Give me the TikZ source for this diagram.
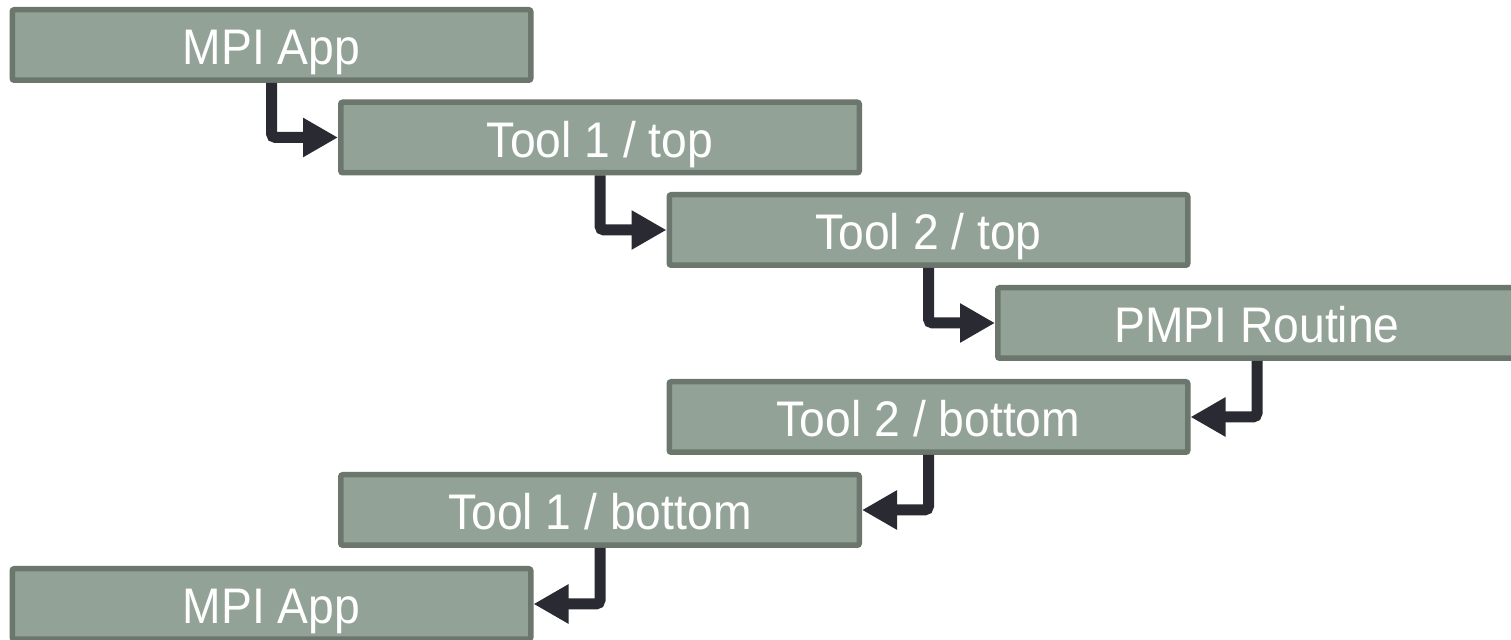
\documentclass[tikz,border=0pt]{standalone}
\usepackage{fontspec}
\setmainfont{Liberation Sans}
\newfontfamily\labelfont[FakeStretch=0.925]{Liberation Sans}
\usetikzlibrary{arrows.meta}
\definecolor{boxfill}{HTML}{93A297}
\definecolor{boxedge}{HTML}{6B776D}
\definecolor{flow}{HTML}{2A2A33}
\tikzset{
  layer/.style={draw=boxedge, fill=boxfill, line width=2.75pt,
    rounded corners=1pt, minimum width=259.25pt, minimum height=35.25pt,
    inner sep=0pt, text=white, text height=19.9pt, text depth=0pt,
    font=\labelfont\fontsize{25pt}{29pt}\selectfont},
  call/.style={draw=flow, line width=5.5pt, rounded corners=2pt,
    -{Triangle[length=17.5pt,width=18.5pt]}}
}
\begin{document}
\begin{tikzpicture}[x=0.5pt, y=-0.5pt]
  \useasboundingbox (0,0) rectangle (1511,640);
  \begin{scope}
    \clip (0,0) rectangle (1511,640);
    % call stack going down
    \node[layer] (app1)  at (271.5,45)  {MPI App};
    \node[layer] (t1top) at (600,137.5) {Tool 1 / top};
    \node[layer] (t2top) at (928.5,230) {Tool 2 / top};
    \node[layer] (pmpi)  at (1257,323)  {PMPI Routine};
    % returning up
    \node[layer] (t2bot) at (928.5,417) {Tool 2 / bottom};
    \node[layer] (t1bot) at (600,510)   {Tool 1 / bottom};
    \node[layer] (app2)  at (271.5,604) {MPI App};
    % connectors
    \draw[call] (app1.south)  |- (t1top.west);
    \draw[call] (t1top.south) |- (t2top.west);
    \draw[call] (t2top.south) |- (pmpi.west);
    \draw[call] (pmpi.south)  |- (t2bot.east);
    \draw[call] (t2bot.south) |- (t1bot.east);
    \draw[call] (t1bot.south) |- (app2.east);
  \end{scope}
\end{tikzpicture}
\end{document}
